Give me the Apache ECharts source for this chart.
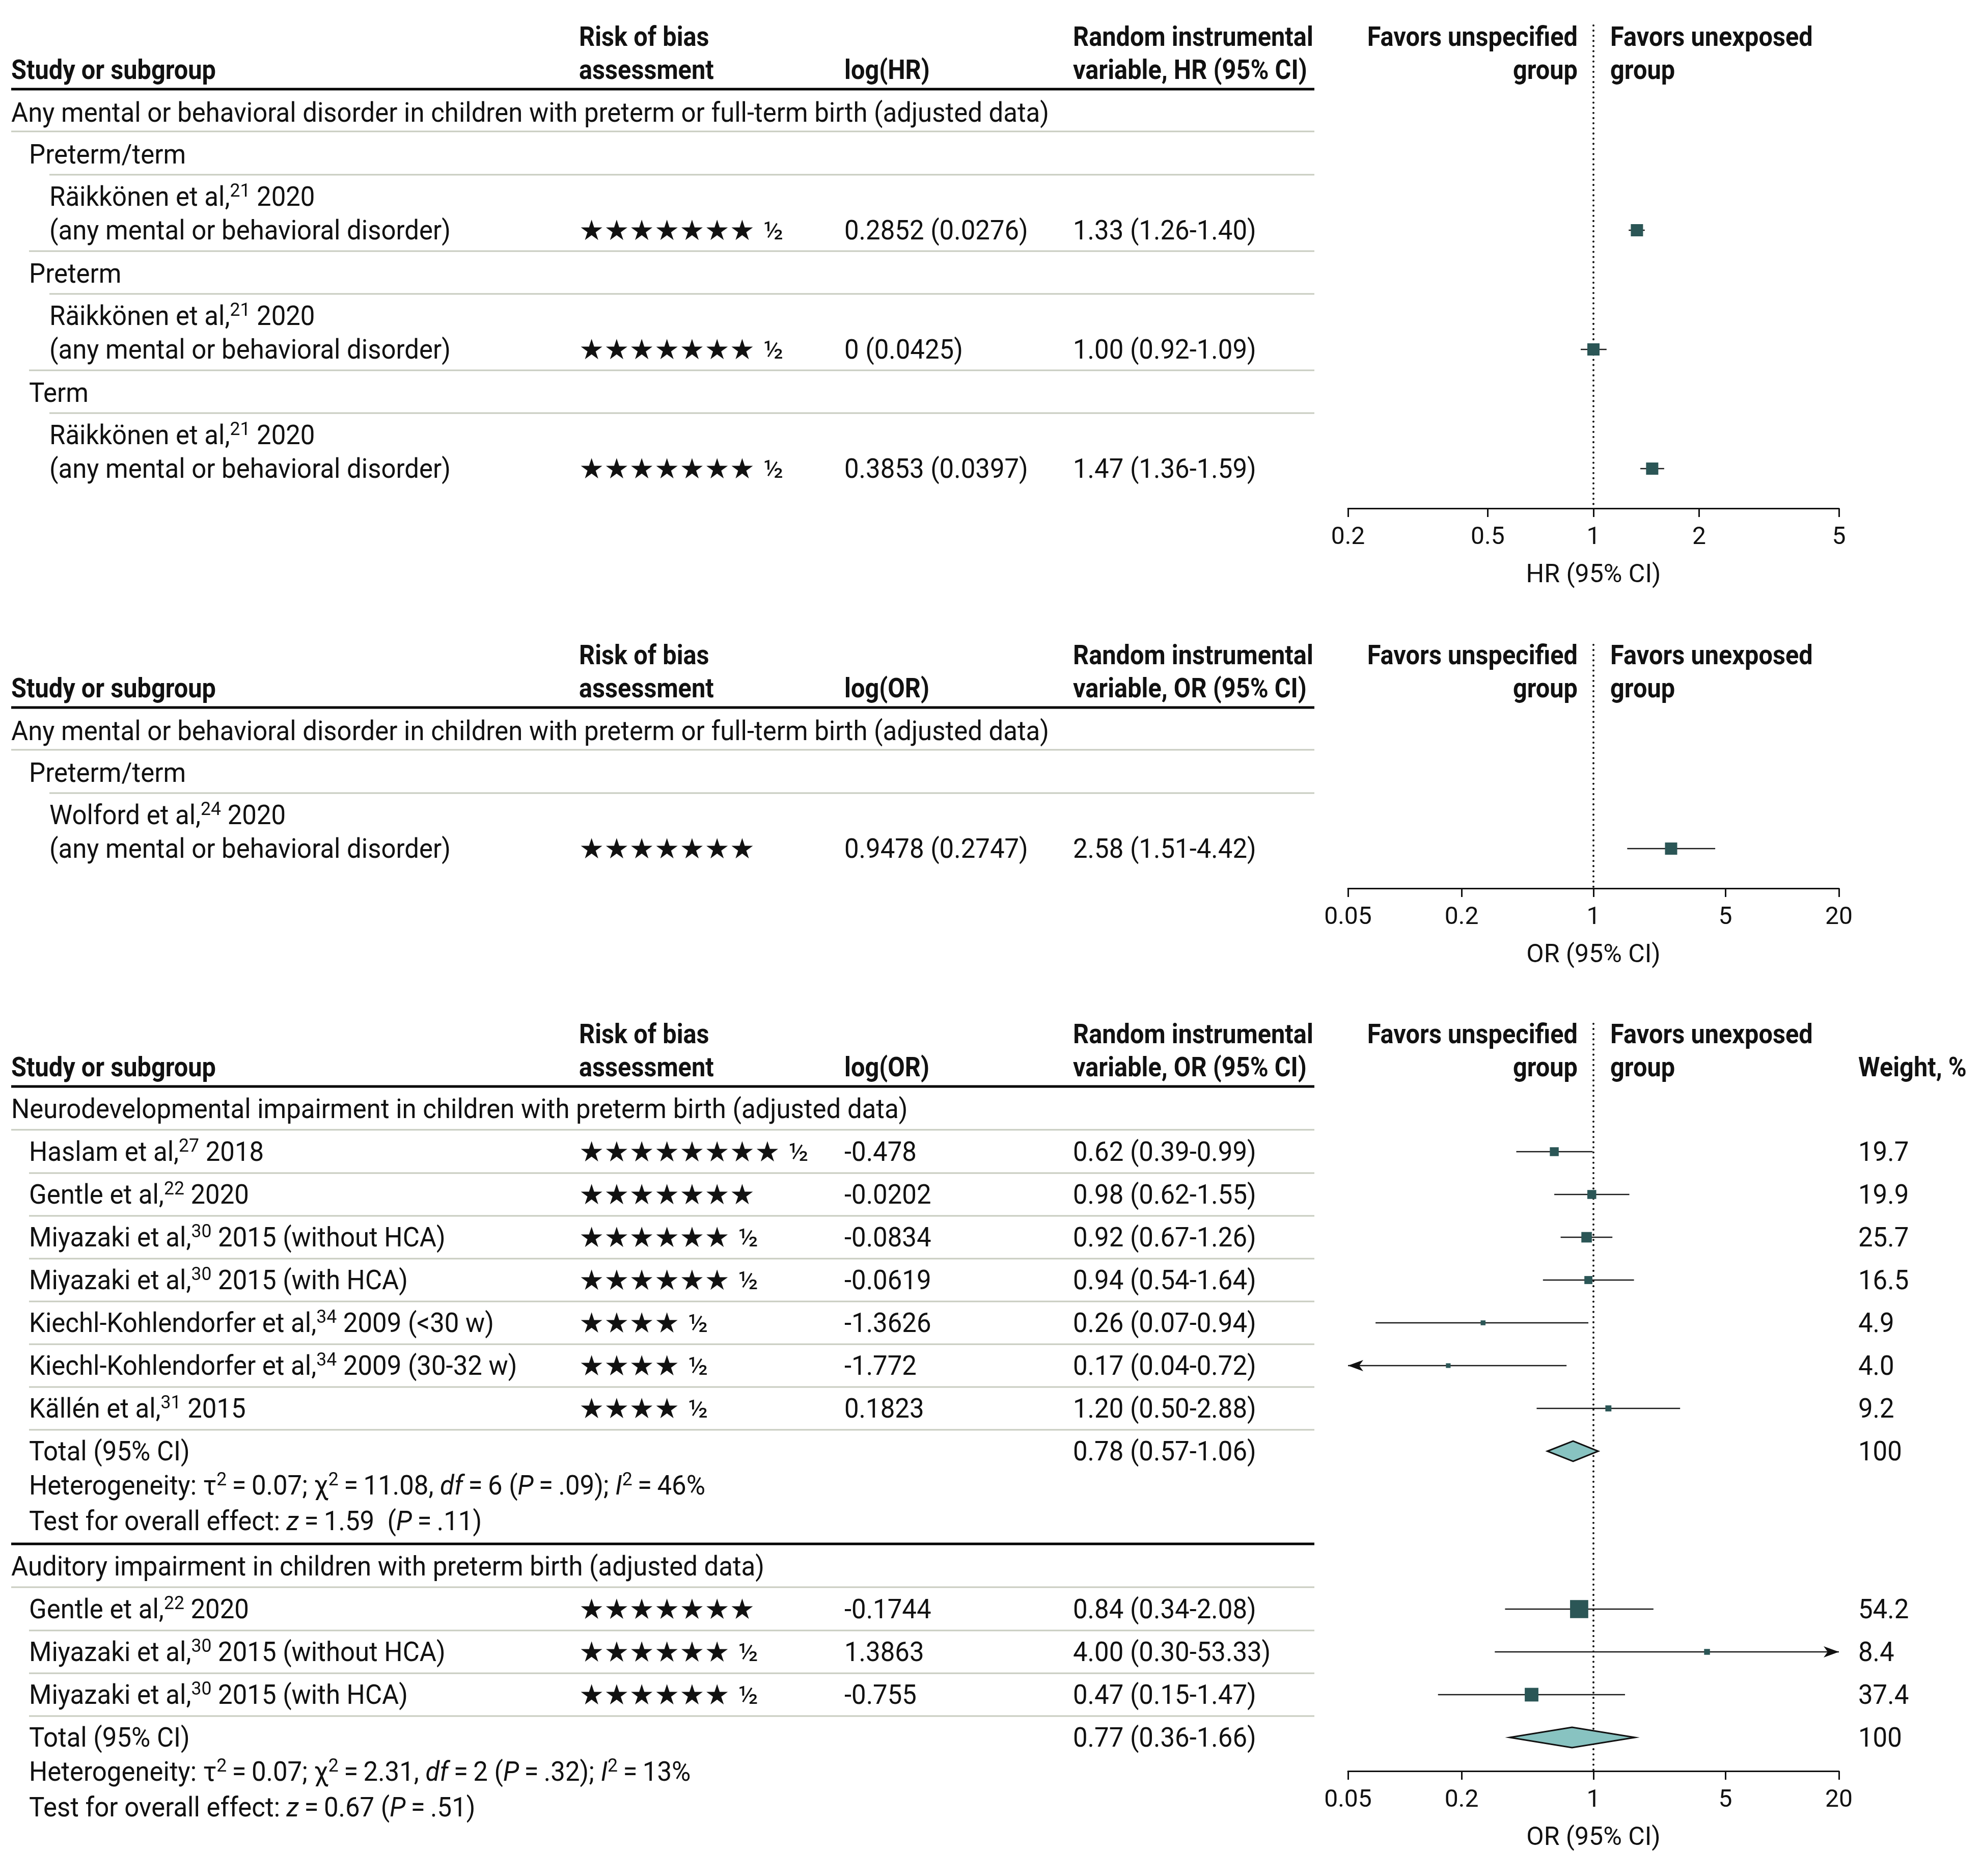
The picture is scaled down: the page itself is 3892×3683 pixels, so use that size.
<!DOCTYPE html>
<html>
<head>
<meta charset="utf-8">
<script src="https://cdn.jsdelivr.net/npm/echarts@6/dist/echarts.min.js"></script>
<style>html,body{margin:0;padding:0;background:#fff}#c{width:3892px;height:3683px}</style>
</head>
<body>
<div id="c"></div>
<script>
// ---------------- DATA ----------------
// Panel 1: HR
const hrSection = 'Any mental or behavioral disorder in children with preterm or full-term birth (adjusted data)';
const hrSubgroups = ['Preterm/term', 'Preterm', 'Term'];
const hrAuthors = ['Räikkönen et al,', 'Räikkönen et al,', 'Räikkönen et al,'];
const hrRefs = ['21', '21', '21'];
const hrYears = ['2020', '2020', '2020'];
const hrOutcomes = ['(any mental or behavioral disorder)', '(any mental or behavioral disorder)', '(any mental or behavioral disorder)'];
const hrStars = [7.5, 7.5, 7.5];
const hrLogText = ['0.2852 (0.0276)', '0 (0.0425)', '0.3853 (0.0397)'];
const hrEst = [1.33, 1.00, 1.47];
const hrLow = [1.26, 0.92, 1.36];
const hrHigh = [1.40, 1.09, 1.59];
const hrTicks = [0.2, 0.5, 1, 2, 5];
const hrTickLabels = ['0.2', '0.5', '1', '2', '5'];

// Panel 2: OR, any disorder
const orSection = 'Any mental or behavioral disorder in children with preterm or full-term birth (adjusted data)';
const orSubgroups = ['Preterm/term'];
const orAuthors = ['Wolford et al,'];
const orRefs = ['24'];
const orYears = ['2020'];
const orOutcomes = ['(any mental or behavioral disorder)'];
const orStars = [7];
const orLogText = ['0.9478 (0.2747)'];
const orEst = [2.58];
const orLow = [1.51];
const orHigh = [4.42];
const orTicks = [0.05, 0.2, 1, 5, 20];
const orTickLabels = ['0.05', '0.2', '1', '5', '20'];

// Panel 3a: neurodevelopmental impairment
const ndiSection = 'Neurodevelopmental impairment in children with preterm birth (adjusted data)';
const ndiAuthors = ['Haslam et al,', 'Gentle et al,', 'Miyazaki et al,', 'Miyazaki et al,', 'Kiechl-Kohlendorfer et al,', 'Kiechl-Kohlendorfer et al,', 'Källén et al,'];
const ndiRefs = ['27', '22', '30', '30', '34', '34', '31'];
const ndiYears = ['2018', '2020', '2015', '2015', '2009', '2009', '2015'];
const ndiNotes = ['', '', '(without HCA)', '(with HCA)', '(<30 w)', '(30-32 w)', ''];
const ndiStars = [8.5, 7, 6.5, 6.5, 4.5, 4.5, 4.5];
const ndiLogText = ['-0.478', '-0.0202', '-0.0834', '-0.0619', '-1.3626', '-1.772', '0.1823'];
const ndiEst = [0.62, 0.98, 0.92, 0.94, 0.26, 0.17, 1.20];
const ndiLow = [0.39, 0.62, 0.67, 0.54, 0.07, 0.04, 0.50];
const ndiHigh = [0.99, 1.55, 1.26, 1.64, 0.94, 0.72, 2.88];
const ndiWeight = ['19.7', '19.9', '25.7', '16.5', '4.9', '4.0', '9.2'];
const ndiTotal = [0.78, 0.57, 1.06];
const ndiTotalWeight = '100';
const ndiHet = 'Heterogeneity: τ{s|2}\u2009=\u20090.07; χ{s|2}\u2009=\u200911.08, {i|df}\u2009=\u20096 ({i|P}\u2009=\u2009.09); {i|I}{s|2}\u2009=\u200946%';
const ndiTest = 'Test for overall effect: {i|z}\u2009=\u20091.59  ({i|P}\u2009=\u2009.11)';

// Panel 3b: auditory impairment
const audSection = 'Auditory impairment in children with preterm birth (adjusted data)';
const audAuthors = ['Gentle et al,', 'Miyazaki et al,', 'Miyazaki et al,'];
const audRefs = ['22', '30', '30'];
const audYears = ['2020', '2015', '2015'];
const audNotes = ['', '(without HCA)', '(with HCA)'];
const audStars = [7, 6.5, 6.5];
const audLogText = ['-0.1744', '1.3863', '-0.755'];
const audEst = [0.84, 4.00, 0.47];
const audLow = [0.34, 0.30, 0.15];
const audHigh = [2.08, 53.33, 1.47];
const audWeight = ['54.2', '8.4', '37.4'];
const audTotal = [0.77, 0.36, 1.66];
const audTotalWeight = '100';
const audHet = 'Heterogeneity: τ{s|2}\u2009=\u20090.07; χ{s|2}\u2009=\u20092.31, {i|df}\u2009=\u20092 ({i|P}\u2009=\u2009.32); {i|I}{s|2}\u2009=\u200913%';
const audTest = 'Test for overall effect: {i|z}\u2009=\u20090.67 ({i|P}\u2009=\u2009.51)';

// ---------------- LAYOUT / STYLE ----------------
const FONT = 'Roboto';
const FS = 53;
const INK = '#111';
const RULE = '#c8ccc0';
const TY = 5; // text baseline nudge
const COL = { sec: 22, sub: 57, study: 97, stars: 1137, log: 1658, ci: 2107, ruleEnd: 2581, favL: 3098, favR: 3162, weight: 3649 };
const AX_L = 2647, AX_R = 3611;

const mctx = document.createElement('canvas').getContext('2d');
function mw(t, w) { mctx.font = w + ' ' + FS + 'px ' + FONT; return mctx.measureText(t).width; }
let scR = 2038 / mw(hrSection, 400);
let scB = 402 / mw('Study or subgroup', 700);
scR = Math.min(1.05, Math.max(0.7, scR));
scB = Math.min(1.05, Math.max(0.7, scB));

const RICH = {
  s: { fontFamily: FONT, fontSize: 37, lineHeight: 38, verticalAlign: 'top', fill: INK },
  i: { fontFamily: FONT, fontSize: FS, fontStyle: 'italic', lineHeight: 66, fill: INK },
  h: { fontFamily: FONT, fontSize: 50, lineHeight: 66, fill: INK }
};

const G = [];
function txt(x, y, text, o) {
  o = o || {};
  const el = {
    type: 'text', x: x, y: y + TY, silent: true,
    scaleX: o.noScale ? 1 : (o.bold ? scB : scR),
    style: {
      text: text, fontFamily: o.family || FONT, fontSize: o.size || FS,
      fontWeight: o.bold ? 700 : 400, fill: INK,
      align: o.align || 'left', verticalAlign: 'middle'
    }
  };
  if (o.rich) { el.style.rich = RICH; el.style.lineHeight = 66; }
  G.push(el);
}
function rule(x1, y, thick, color) {
  G.push({ type: 'rect', silent: true, shape: { x: x1, y: y - thick / 2, width: COL.ruleEnd - x1, height: thick }, style: { fill: color } });
}
function starText(n) {
  const full = Math.floor(n);
  return '★'.repeat(full) + (n - full > 0 ? ' {h|½}' : '');
}
function stars(y, n) { txt(COL.stars, y, starText(n), { family: 'DejaVu Sans', size: 55, noScale: true, rich: true }); }
function nameText(a, r, yv, note) { return a + '{s|' + r + '} ' + yv + (note ? ' ' + note : ''); }
function ciText(e, l, h) { return e.toFixed(2) + ' (' + l.toFixed(2) + '-' + h.toFixed(2) + ')'; }

function header(base, eff, withWeight) {
  txt(COL.stars, base, 'Risk of bias', { bold: true });
  txt(COL.ci, base, 'Random instrumental', { bold: true });
  txt(COL.sec, base + 65, 'Study or subgroup', { bold: true });
  txt(COL.stars, base + 65, 'assessment', { bold: true });
  txt(COL.log, base + 65, 'log(' + eff + ')', { bold: true });
  txt(COL.ci, base + 65, 'variable, ' + eff + ' (95% CI)', { bold: true });
  txt(COL.favL, base, 'Favors unspecified', { bold: true, align: 'right' });
  txt(COL.favL, base + 65, 'group', { bold: true, align: 'right' });
  txt(COL.favR, base, 'Favors unexposed', { bold: true });
  txt(COL.favR, base + 65, 'group', { bold: true });
  if (withWeight) txt(COL.weight, base + 65, 'Weight, %', { bold: true });
  rule(COL.sec, base + 103, 5, '#000');
}

// panels 1 & 2 share a template
function subgroupPanel(base, eff, section, subs, authors, refs, years, outcomes, st, logT, est, low, high) {
  header(base, eff, false);
  txt(COL.sec, base + 149, section);
  rule(COL.sec, base + 186, 3, RULE);
  const rows = [];
  subs.forEach((s, i) => {
    const L = base + 231 + 234 * i;
    txt(COL.sub, L, s);
    rule(COL.study, L + 40, 3, RULE);
    txt(COL.study, L + 83, nameText(authors[i], refs[i], years[i], ''), { rich: true });
    const yv = L + 149;
    txt(COL.study, yv, outcomes[i]);
    stars(yv, st[i]);
    txt(COL.log, yv, logT[i]);
    txt(COL.ci, yv, ciText(est[i], low[i], high[i]));
    if (i < subs.length - 1) rule(COL.sub, L + 190, 3, RULE);
    rows.push({ est: est[i], lo: low[i], hi: high[i], y: yv, size: 24, total: false });
  });
  return rows;
}

const base1 = 72;
const rows1 = subgroupPanel(base1, 'HR', hrSection, hrSubgroups, hrAuthors, hrRefs, hrYears, hrOutcomes, hrStars, hrLogText, hrEst, hrLow, hrHigh);
const axisY1 = rows1[rows1.length - 1].y + 78;

const base2 = 1286;
const rows2 = subgroupPanel(base2, 'OR', orSection, orSubgroups, orAuthors, orRefs, orYears, orOutcomes, orStars, orLogText, orEst, orLow, orHigh);
const axisY2 = rows2[rows2.length - 1].y + 78;

// panel 3
const base3 = 2030;
header(base3, 'OR', true);
const rows3 = [];
function metaBlock(secY, section, authors, refs, years, notes, st, logT, est, low, high, wts, total, totW, het, test) {
  txt(COL.sec, secY, section);
  rule(COL.sec, secY + 41, 3, RULE);
  let y = secY + 84;
  authors.forEach((a, i) => {
    txt(COL.sub, y, nameText(a, refs[i], years[i], notes[i]), { rich: true });
    stars(y, st[i]);
    txt(COL.log, y, logT[i]);
    txt(COL.ci, y, ciText(est[i], low[i], high[i]));
    txt(COL.weight, y, wts[i]);
    rule(COL.sub, y + 42, 3, RULE);
    rows3.push({ est: est[i], lo: low[i], hi: high[i], y: y, size: 7 + 0.53 * parseFloat(wts[i]), total: false });
    y += 84;
  });
  txt(COL.sub, y, 'Total (95% CI)');
  txt(COL.ci, y, ciText(total[0], total[1], total[2]));
  txt(COL.weight, y, totW);
  rows3.push({ est: total[0], lo: total[1], hi: total[2], y: y, size: 20, total: true });
  txt(COL.sub, y + 67, het, { rich: true });
  txt(COL.sub, y + 137, test, { rich: true });
  return y;
}
const ndiTotY = metaBlock(base3 + 147, ndiSection, ndiAuthors, ndiRefs, ndiYears, ndiNotes, ndiStars, ndiLogText, ndiEst, ndiLow, ndiHigh, ndiWeight, ndiTotal, ndiTotalWeight, ndiHet, ndiTest);
rule(COL.sec, ndiTotY + 182, 5, '#000');
const audTotY = metaBlock(ndiTotY + 226, audSection, audAuthors, audRefs, audYears, audNotes, audStars, audLogText, audEst, audLow, audHigh, audWeight, audTotal, audTotalWeight, audHet, audTest);
const axisY3 = audTotY + 66;

// ---------------- CHART ----------------
const panels = [
  { top: base1 - 40, axisY: axisY1, refTop: base1 - 22, min: 0.2, max: 5, ticks: hrTicks, labels: hrTickLabels, name: 'HR (95% CI)', rows: rows1 },
  { top: base2 - 40, axisY: axisY2, refTop: base2 - 20, min: 0.05, max: 20, ticks: orTicks, labels: orTickLabels, name: 'OR (95% CI)', rows: rows2 },
  { top: base3 - 40, axisY: axisY3, refTop: base3 - 20, min: 0.05, max: 20, ticks: orTicks, labels: orTickLabels, name: 'OR (95% CI)', rows: rows3 }
];

function arrow(x, y, dir) {
  return { type: 'polygon', shape: { points: [[x, y], [x - dir * 30, y - 11], [x - dir * 22, y], [x - dir * 30, y + 11]] }, style: { fill: INK } };
}

const grids = [], xAxes = [], yAxes = [], series = [];
panels.forEach((p, gi) => {
  grids.push({ left: AX_L, width: AX_R - AX_L, top: p.top, height: p.axisY - p.top, containLabel: false, outerBoundsMode: 'none', show: false });
  xAxes.push({
    type: 'log', logBase: 10, gridIndex: gi, min: p.min, max: p.max, position: 'bottom',
    axisLine: { show: true, onZero: false, lineStyle: { color: INK, width: 3 } },
    axisTick: { show: true, inside: false, length: 17, customValues: p.ticks, lineStyle: { color: INK, width: 3 } },
    minorTick: { show: false }, splitLine: { show: false }, minorSplitLine: { show: false },
    axisLabel: {
      show: true, customValues: p.ticks, margin: 34, fontFamily: FONT, fontSize: 48, color: INK,
      formatter: function (v) {
        let best = 0, bd = 1e9;
        p.ticks.forEach((t, i) => { const d = Math.abs(Math.log(t) - Math.log(v)); if (d < bd) { bd = d; best = i; } });
        return p.labels[best];
      }
    },
    name: p.name, nameLocation: 'middle', nameGap: 107, nameMoveOverlap: false,
    nameTextStyle: { fontFamily: FONT, fontSize: 50, color: INK }
  });
  yAxes.push({ type: 'value', gridIndex: gi, min: p.top, max: p.axisY, inverse: true, show: false });
  series.push({
    type: 'line', xAxisIndex: gi, yAxisIndex: gi, data: [[1, p.refTop], [1, p.axisY]], symbol: 'none', silent: true, z: 1,
    lineStyle: { color: INK, width: 4, type: [0.1, 10], cap: 'round' }
  });
  const xmin = p.min, xmax = p.max;
  series.push({
    type: 'custom', xAxisIndex: gi, yAxisIndex: gi, z: 3, silent: true,
    encode: { x: [0, 1, 2], y: 3 },
    data: p.rows.map(r => [r.est, r.lo, r.hi, r.y, r.size, r.total ? 1 : 0]),
    renderItem: function (params, api) {
      const est = api.value(0), lo = api.value(1), hi = api.value(2), yv = api.value(3), sz = api.value(4), tot = api.value(5);
      const c = api.coord([est, yv]);
      const l = api.coord([Math.max(lo, xmin), yv]);
      const h = api.coord([Math.min(hi, xmax), yv]);
      const y = c[1];
      if (tot) {
        return { type: 'polygon', shape: { points: [[l[0], y], [c[0], y - sz], [h[0], y], [c[0], y + sz]] },
          style: { fill: '#88c3c1', stroke: INK, lineWidth: 3, lineJoin: 'miter' } };
      }
      const children = [
        { type: 'line', shape: { x1: l[0], y1: y, x2: h[0], y2: y }, style: { stroke: '#1a1a1a', lineWidth: 2.5 } },
        { type: 'rect', shape: { x: c[0] - sz / 2, y: y - sz / 2, width: sz, height: sz }, style: { fill: '#2b5656' } }
      ];
      if (lo < xmin) children.push(arrow(l[0], y, -1));
      if (hi > xmax) children.push(arrow(h[0], y, 1));
      return { type: 'group', children: children };
    }
  });
});

const chart = echarts.init(document.getElementById('c'), null, { renderer: 'canvas', width: 3892, height: 3683 });
chart.setOption({
  animation: false,
  backgroundColor: '#fff',
  grid: grids, xAxis: xAxes, yAxis: yAxes, series: series,
  graphic: { elements: G }
});
</script>
</body>
</html>
